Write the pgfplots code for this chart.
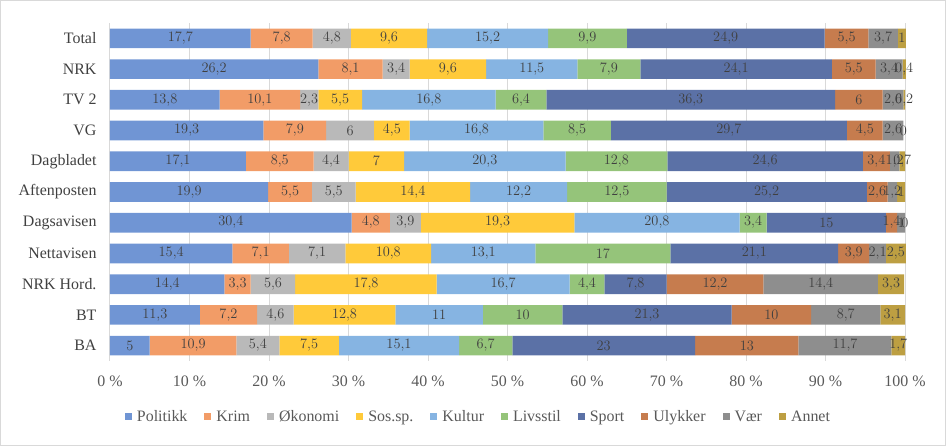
\documentclass[border=0pt]{standalone}
\usepackage{pgfplots}
\pgfplotsset{compat=1.18}
\usepackage{pgfplotstable}
\usepackage{fontspec}
\setmainfont{Liberation Serif}

\definecolor{cPol}{HTML}{7095D4}
\definecolor{cKrim}{HTML}{F29C67}
\definecolor{cOko}{HTML}{B9B9B9}
\definecolor{cSos}{HTML}{FFCA3A}
\definecolor{cKul}{HTML}{86B4E2}
\definecolor{cLiv}{HTML}{95C47A}
\definecolor{cSpo}{HTML}{5B71A6}
\definecolor{cUly}{HTML}{C67C4E}
\definecolor{cVaer}{HTML}{8E8E8E}
\definecolor{cAnn}{HTML}{BD9F42}
\definecolor{txt}{HTML}{595959}
\definecolor{lbl}{HTML}{404040}
\definecolor{gridc}{HTML}{D9D9D9}

% one row per outlet, one column per category (per cent)
\pgfplotstableread{
name Pol  Krim Oko Sos  Kul  Liv  Spo  Uly  Vaer Ann
1    17.7 7.8  4.8 9.6  15.2 9.9  24.9 5.5  3.7  1
2    26.2 8.1  3.4 9.6  11.5 7.9  24.1 5.5  3.4  0.4
3    13.8 10.1 2.3 5.5  16.8 6.4  36.3 6    2.6  0.2
4    19.3 7.9  6   4.5  16.8 8.5  29.7 4.5  2.6  0
5    17.1 8.5  4.4 7    20.3 12.8 24.6 3.4  1.2  0.7
6    19.9 5.5  5.5 14.4 12.2 12.5 25.2 2.6  1.2  1
7    30.4 4.8  3.9 19.3 20.8 3.4  15   1.4  1    0
8    15.4 7.1  7.1 10.8 13.1 17   21.1 3.9  2.1  2.5
9    14.4 3.3  5.6 17.8 16.7 4.4  7.8  12.2 14.4 3.3
10   11.3 7.2  4.6 12.8 11   10   21.3 10   8.7  3.1
11   5    10.9 5.4 7.5  15.1 6.7  23   13   11.7 1.7
}\shares

\pgfplotsset{
  frame/.style={
    at={(0,0)}, anchor=south west,
    scale only axis,
    width=795bp, height=338bp,
    y dir=reverse,
    xmin=0, xmax=100,
    ymin=-0.5, ymax=10.5,
    clip=false,
    table/y expr=\coordindex,
  },
  lab/.style={draw=none, mark=none},
}

\begin{document}
\begin{tikzpicture}
\begin{axis}[
    frame,
    xbar stacked,
    bar width=0.64,
    xtick={0,10,...,100},
    xticklabel={\pgfmathprintnumber{\tick}~\%},
    ytick={0,...,10},
    yticklabels={Total,NRK,TV 2,VG,Dagbladet,Aftenposten,Dagsavisen,Nettavisen,NRK Hord.,BT,BA},
    /pgf/number format/assume math mode=true,
    tick style={draw=none},
    axis line style={draw=none},
    xmajorgrids,
    grid style={gridc, line width=1bp},
    ticklabel style={font=\fontsize{16}{18}\selectfont, text=txt},
    yticklabel style={text=lbl, xshift=-10bp},
    xticklabel style={yshift=-11bp},
    legend columns=10,
    legend style={at={(0.4635,-0.165)}, anchor=center, draw=none,
        font=\fontsize{16}{18}\selectfont, text=txt,
        /tikz/every even column/.append style={column sep=15bp}},
    legend image code/.code={\fill[#1] (0bp,-3.5bp) rectangle (7bp,3.5bp);
        \path (10bp,0bp);},
]
\addplot[fill=cPol, draw=none] table[x=Pol] {\shares};
\addplot[fill=cKrim, draw=none] table[x=Krim] {\shares};
\addplot[fill=cOko, draw=none] table[x=Oko] {\shares};
\addplot[fill=cSos, draw=none] table[x=Sos] {\shares};
\addplot[fill=cKul, draw=none] table[x=Kul] {\shares};
\addplot[fill=cLiv, draw=none] table[x=Liv] {\shares};
\addplot[fill=cSpo, draw=none] table[x=Spo] {\shares};
\addplot[fill=cUly, draw=none] table[x=Uly] {\shares};
\addplot[fill=cVaer, draw=none] table[x=Vaer] {\shares};
\addplot[fill=cAnn, draw=none] table[x=Ann] {\shares};
\legend{Politikk,Krim,Økonomi,Sos.sp.,Kultur,Livsstil,Sport,Ulykker,Vær,Annet}
\end{axis}
% data labels, each at the middle of its segment
\begin{axis}[
    frame,
    hide axis,
    point meta=explicit,
    nodes near coords={\pgfmathprintnumber[use comma,fixed,precision=1]{\pgfplotspointmeta}},
    every node near coord/.append style={anchor=center,
        font=\fontsize{15}{17}\selectfont, text=lbl, inner sep=0pt},
]
\addplot[lab] table[meta=Pol, x expr={\thisrow{Pol}/2}] {\shares};
\addplot[lab] table[meta=Krim, x expr={\thisrow{Pol}+\thisrow{Krim}/2}] {\shares};
\addplot[lab] table[meta=Oko, x expr={\thisrow{Pol}+\thisrow{Krim}+\thisrow{Oko}/2}] {\shares};
\addplot[lab] table[meta=Sos, x expr={\thisrow{Pol}+\thisrow{Krim}+\thisrow{Oko}+\thisrow{Sos}/2}] {\shares};
\addplot[lab] table[meta=Kul, x expr={\thisrow{Pol}+\thisrow{Krim}+\thisrow{Oko}+\thisrow{Sos}+\thisrow{Kul}/2}] {\shares};
\addplot[lab] table[meta=Liv, x expr={\thisrow{Pol}+\thisrow{Krim}+\thisrow{Oko}+\thisrow{Sos}+\thisrow{Kul}+\thisrow{Liv}/2}] {\shares};
\addplot[lab] table[meta=Spo, x expr={\thisrow{Pol}+\thisrow{Krim}+\thisrow{Oko}+\thisrow{Sos}+\thisrow{Kul}+\thisrow{Liv}+\thisrow{Spo}/2}] {\shares};
\addplot[lab] table[meta=Uly, x expr={\thisrow{Pol}+\thisrow{Krim}+\thisrow{Oko}+\thisrow{Sos}+\thisrow{Kul}+\thisrow{Liv}+\thisrow{Spo}+\thisrow{Uly}/2}] {\shares};
\addplot[lab] table[meta=Vaer, x expr={\thisrow{Pol}+\thisrow{Krim}+\thisrow{Oko}+\thisrow{Sos}+\thisrow{Kul}+\thisrow{Liv}+\thisrow{Spo}+\thisrow{Uly}+\thisrow{Vaer}/2}] {\shares};
\addplot[lab] table[meta=Ann, x expr={\thisrow{Pol}+\thisrow{Krim}+\thisrow{Oko}+\thisrow{Sos}+\thisrow{Kul}+\thisrow{Liv}+\thisrow{Spo}+\thisrow{Uly}+\thisrow{Vaer}+\thisrow{Ann}/2}] {\shares};
\end{axis}
\pgfresetboundingbox
\draw[gridc, line width=1bp] (-109.5bp,-84.5bp) rectangle (835.5bp,360.5bp);
\end{tikzpicture}
\end{document}
